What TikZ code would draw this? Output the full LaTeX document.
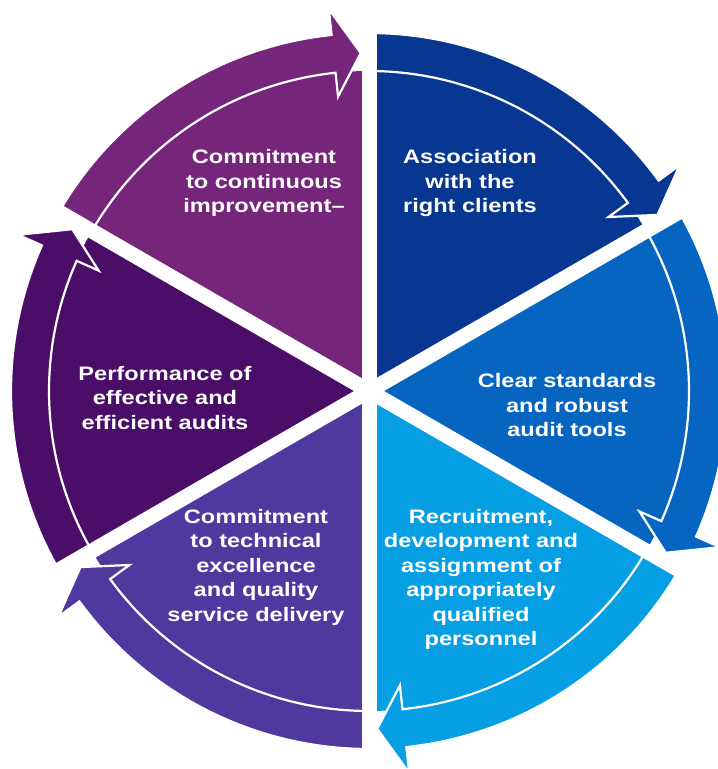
\documentclass[tikz,border=0pt]{standalone}
\usepackage{fontspec}
\newfontfamily\cyclefont[FakeStretch=1.21]{Liberation Sans}
\usepackage{tikz}

\definecolor{improve}{RGB}{117,38,122}
\definecolor{clients}{RGB}{7,55,144}
\definecolor{standards}{RGB}{5,101,193}
\definecolor{personnel}{RGB}{7,159,227}
\definecolor{excellence}{RGB}{80,57,158}
\definecolor{audits}{RGB}{75,14,104}

\begin{document}
\begin{tikzpicture}[x=1pt,y=1pt]
\tikzstyle{ring}=[draw=white, line width=2.2pt, line join=miter]
\tikzstyle{gap}=[draw=white, line width=15pt]
\tikzstyle{cycletext}=[text=white, align=center, inner sep=0pt, text depth=0pt, font=\cyclefont\bfseries\fontsize{19.5}{24.5}\selectfont]

\useasboundingbox (0,0) rectangle (718,769);

\begin{scope}[shift={(369,378)}]
	% inner slices
	\fill[improve] (0,0) -- (90:320) arc (90:150:320) -- cycle;
	\fill[clients] (0,0) -- (30:320) arc (30:90:320) -- cycle;
	\fill[standards] (0,0) -- (-30:320) arc (-30:30:320) -- cycle;
	\fill[personnel] (0,0) -- (-90:320) arc (-90:-30:320) -- cycle;
	\fill[excellence] (0,0) -- (-150:320) arc (-150:-90:320) -- cycle;
	\fill[audits] (0,0) -- (150:320) arc (150:210:320) -- cycle;

	% outer arrows, clockwise
	\path[ring, fill=improve] (150:320) arc (150:96:320) -- (96:296) -- (91.4:338) -- (96:384) -- (96:358) arc (96:150:358) -- cycle;
	\path[ring, fill=clients] (90:320) arc (90:36:320) -- (36:296) -- (31.4:338) -- (36:384) -- (36:358) arc (36:90:358) -- cycle;
	\path[ring, fill=standards] (30:320) arc (30:-24:320) -- (-24:296) -- (-28.6:338) -- (-24:384) -- (-24:358) arc (-24:30:358) -- cycle;
	\path[ring, fill=personnel] (-30:320) arc (-30:-84:320) -- (-84:296) -- (-88.6:338) -- (-84:384) -- (-84:358) arc (-84:-30:358) -- cycle;
	\path[ring, fill=excellence] (-90:320) arc (-90:-144:320) -- (-144:296) -- (-148.6:338) -- (-144:384) -- (-144:358) arc (-144:-90:358) -- cycle;
	\path[ring, fill=audits] (210:320) arc (210:156:320) -- (156:296) -- (151.4:338) -- (156:384) -- (156:358) arc (156:210:358) -- cycle;

	% white gaps
	\draw[gap] (0,0) -- (90:400);
	\draw[gap] (0,0) -- (30:400);
	\draw[gap] (0,0) -- (-30:400);
	\draw[gap] (0,0) -- (-90:400);
	\draw[gap] (0,0) -- (-150:400);
	\draw[gap] (0,0) -- (150:400);
\end{scope}

	\node[cycletext] (improvement) at (264,588) {Commitment\\to continuous\\improvement–};
	\node[cycletext] (association) at (470,588) {Association\\with the\\right clients};
	\node[cycletext] (standards) at (567,364) {Clear standards\\and robust\\audit tools};
	\node[cycletext] (recruitment) at (481,191.5) {Recruitment,\\development and\\assignment of\\appropriately\\qualified\\personnel};
	\node[cycletext] (technical) at (256,204) {Commitment\\to technical\\excellence\\and quality\\service delivery};
	\node[cycletext] (performance) at (165,371.5) {Performance of\\effective and\\efficient audits};

\end{tikzpicture}
\end{document}
